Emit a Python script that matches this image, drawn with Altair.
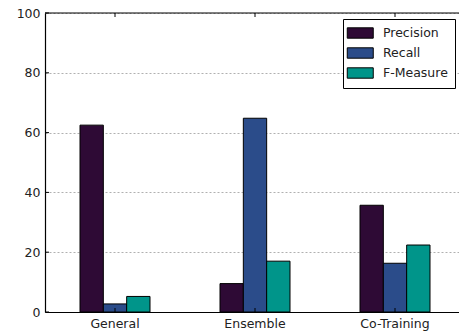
import altair as alt
import pandas as pd

categories = ["General", "Ensemble", "Co-Training"]
series = ["Precision", "Recall", "F-Measure"]
precision = [62.5, 9.5, 35.7]
recall = [2.7, 64.8, 16.3]
fmeasure = [5.2, 17.0, 22.4]
colors = ["#2e0a35", "#2b4c8a", "#00958a"]
y_ticks = [0, 20, 40, 60, 80, 100]

rows = []
for i, c in enumerate(categories):
    for s, vals in zip(series, [precision, recall, fmeasure]):
        rows.append({"category": c, "series": s, "value": vals[i]})
df = pd.DataFrame(rows)

W, H = 414, 299
FONT = "DejaVu Sans"

xscale = alt.Scale(domain=categories, paddingInner=0.5, paddingOuter=0.25, range=[0, 420])
yscale = alt.Scale(domain=[0, 100], nice=False)

bars = alt.Chart(df).mark_bar(stroke="black", strokeWidth=1).encode(
    x=alt.X("category:N", scale=xscale, sort=categories,
            axis=alt.Axis(title=None, labelAngle=0, tickSize=0, labelPadding=5,
                          domain=True, domainColor="black", domainWidth=1.2, grid=False,
                          labelFontSize=12.5, labelColor="#222222", labelFont=FONT)),
    xOffset=alt.XOffset("series:N", sort=series,
                        scale=alt.Scale(domain=series, paddingInner=0, paddingOuter=0)),
    y=alt.Y("value:Q", scale=yscale,
            axis=alt.Axis(title=None, values=y_ticks, tickSize=0, labelPadding=5,
                          domain=True, domainColor="black", domainWidth=1.2,
                          grid=True, gridDash=[2, 2], gridColor="#b0b0b0",
                          labelFontSize=12.5, labelColor="#222222", labelFont=FONT)),
    color=alt.Color("series:N", sort=series,
                    scale=alt.Scale(domain=series, range=colors),
                    legend=alt.Legend(
                        title=None, orient="none", legendX=298, legendY=6,
                        symbolType="M-1.5,-0.8H2.5V0.8H-1.5Z", symbolSize=169,
                        symbolStrokeColor="black", symbolStrokeWidth=1,
                        labelFontSize=12.5, labelFont=FONT, labelColor="#222222",
                        labelOffset=19, rowPadding=4, padding=7,
                        strokeColor="black", fillColor="white", cornerRadius=0)),
)

tick_df = pd.DataFrame({"t": y_ticks})
left_ticks = alt.Chart(tick_df).mark_rule(color="black", strokeWidth=1).encode(
    y=alt.Y("t:Q", scale=yscale), x=alt.value(0), x2=alt.value(4))

top_df = pd.DataFrame({"t": [100]})
top_border = alt.Chart(top_df).mark_rule(color="black", strokeWidth=1.2).encode(
    y=alt.Y("t:Q", scale=yscale), x=alt.value(0), x2=alt.value(W))

cat_df = pd.DataFrame({"category": categories})
top_ticks = alt.Chart(cat_df).mark_rule(color="black", strokeWidth=1).encode(
    x=alt.X("category:N", scale=xscale, sort=categories), y=alt.value(0), y2=alt.value(4))
bottom_ticks = alt.Chart(cat_df).mark_rule(color="black", strokeWidth=1).encode(
    x=alt.X("category:N", scale=xscale, sort=categories), y=alt.value(H - 4), y2=alt.value(H))

chart = alt.layer(bars, left_ticks, top_border, top_ticks, bottom_ticks).properties(
    width=W, height=H,
    autosize=alt.AutoSizeParams(type="none"),
    padding={"left": 45, "top": 13, "right": 0, "bottom": 23},
    background="white",
).configure_view(stroke=None)

chart.save("out.html", embed_options={"renderer": "svg", "actions": False})
